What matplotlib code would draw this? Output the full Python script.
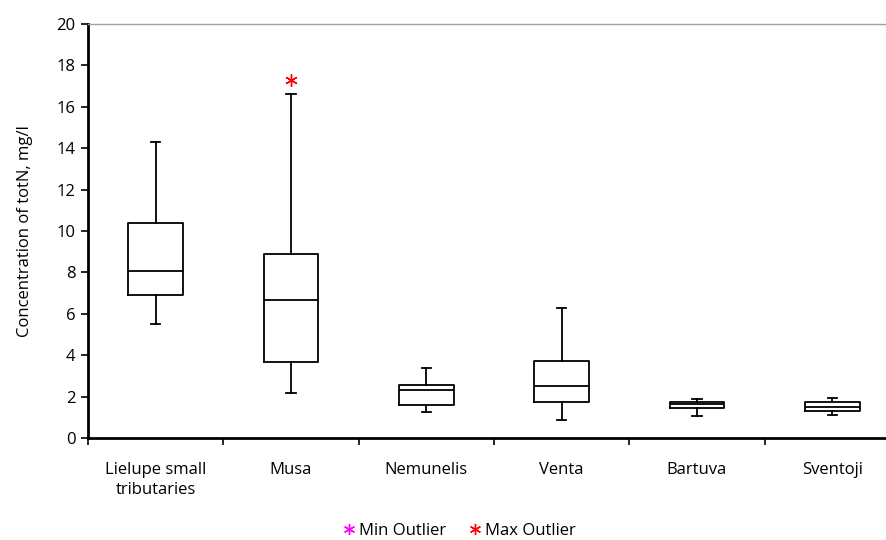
import matplotlib
matplotlib.use('Agg')
import matplotlib.pyplot as plt
from matplotlib.lines import Line2D

# Box statistics (mg/l)
rivers = ['Lielupe small\ntributaries', 'Musa', 'Nemunelis', 'Venta', 'Bartuva', 'Sventoji']
whisker_low = [5.5, 2.15, 1.25, 0.85, 1.05, 1.1]
q1 = [6.9, 3.65, 1.6, 1.75, 1.47, 1.3]
median = [8.05, 6.65, 2.32, 2.52, 1.65, 1.48]
q3 = [10.4, 8.9, 2.58, 3.72, 1.74, 1.74]
whisker_high = [14.3, 16.62, 3.37, 6.28, 1.88, 1.95]
max_outliers = [[], [17.3], [], [], [], []]

stats = []
for i, name in enumerate(rivers):
    stats.append(dict(label=name, whislo=whisker_low[i], q1=q1[i], med=median[i],
                      q3=q3[i], whishi=whisker_high[i], fliers=max_outliers[i]))

plt.rcParams['font.family'] = ['Open Sans', 'DejaVu Sans']
fs = 12

fig = plt.figure(figsize=(8.87, 5.40), dpi=100)
ax = fig.add_axes([88 / 887, 102 / 540, 812 / 887, 414 / 540])

asterisk = (6, 2, 0)
ax.bxp(stats, positions=range(1, len(rivers) + 1), widths=0.405,
       boxprops=dict(color='black', linewidth=1.3),
       medianprops=dict(color='black', linewidth=1.3),
       whiskerprops=dict(color='black', linewidth=1.3),
       capprops=dict(color='black', linewidth=1.3),
       flierprops=dict(marker=asterisk, markeredgecolor='red', markersize=9,
                       markeredgewidth=1.0, linestyle='none'),
       capwidths=0.07)

ax.set_xlim(0.5, len(rivers) + 0.5)
ax.set_ylim(0, 20)
ax.set_yticks(range(0, 21, 2))
ax.tick_params(axis='y', direction='out', length=5, width=1.2, labelsize=fs, pad=4)

# category ticks at boundaries, labels centred
ax.set_xticks([i + 0.5 for i in range(0, len(rivers) + 1)])
ax.set_xticklabels([])
ax.set_xticks(range(1, len(rivers) + 1), minor=True)
ax.set_xticklabels(rivers, minor=True, fontsize=fs, linespacing=1.4)
ax.tick_params(axis='x', which='major', direction='out', length=5, width=1.2)
ax.tick_params(axis='x', which='minor', length=0, pad=17)

ax.spines['left'].set_linewidth(2)
ax.spines['bottom'].set_linewidth(2)
ax.spines['right'].set_visible(False)
ax.spines['top'].set_color('#a0a0a0')
ax.spines['top'].set_linewidth(1)

ax.set_ylabel('Concentration of totN, mg/l', fontsize=fs, labelpad=17)

handles = [Line2D([], [], marker=asterisk, color='magenta', linestyle='none',
                  markersize=8, markeredgewidth=1.0),
           Line2D([], [], marker=asterisk, color='red', linestyle='none',
                  markersize=8, markeredgewidth=1.0)]
fig.legend(handles, ['Min Outlier', 'Max Outlier'], loc='center',
           bbox_to_anchor=(458 / 887, 1 - 531 / 540), ncol=2, frameon=False,
           fontsize=fs, handletextpad=0.1, columnspacing=1.2, handlelength=1)

fig.savefig('out.png', dpi=100)
